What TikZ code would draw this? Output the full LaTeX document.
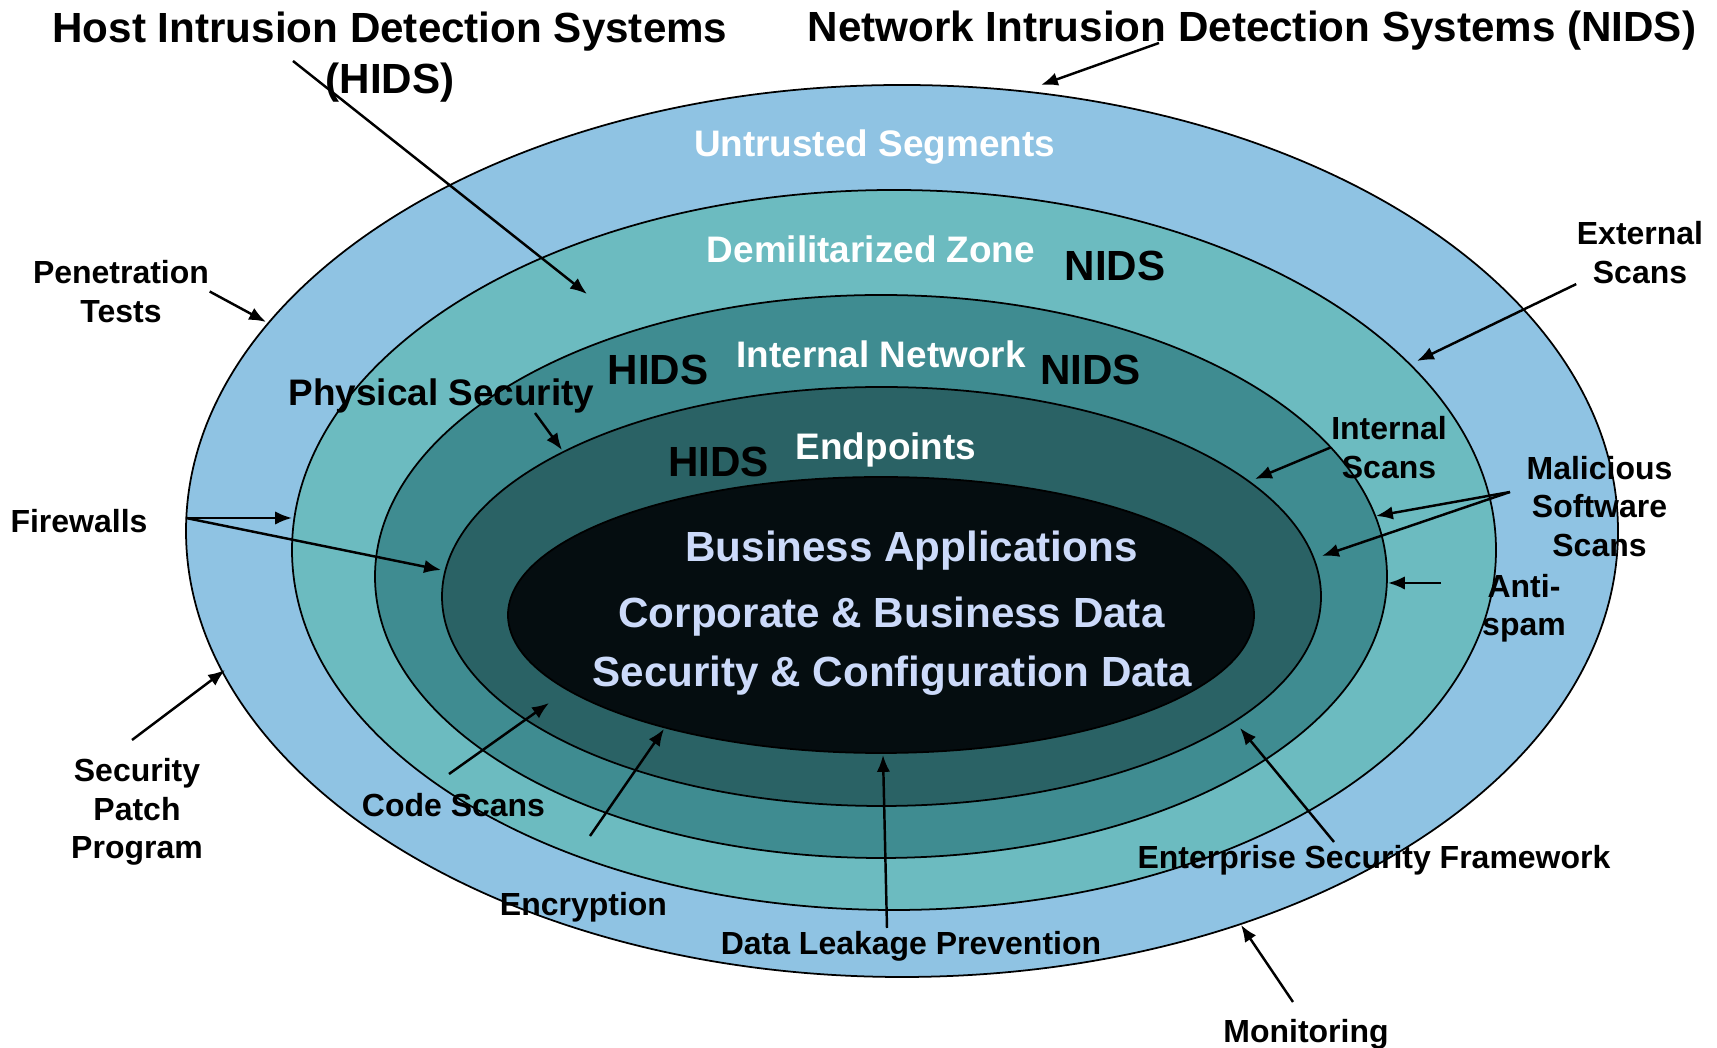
\documentclass[tikz,border=0pt]{standalone}
\usepackage{fontspec}
\setmainfont{Liberation Sans}
\usetikzlibrary{arrows.meta}

\definecolor{zoneUntrusted}{RGB}{143,195,227}
\definecolor{zoneDmz}{RGB}{108,187,192}
\definecolor{zoneInternal}{RGB}{63,140,145}
\definecolor{zoneEndpoint}{RGB}{42,98,101}
\definecolor{zoneCore}{RGB}{5,13,16}
\definecolor{coretext}{RGB}{204,218,250}

\begin{document}
\begin{tikzpicture}

% --- Reusable styles ---
\tikzset{
    ring/.style={draw=black, line width=0.5pt},
    pointer/.style={-{Latex[length=4.8pt, width=3.8pt]}, line width=0.7pt},
    heading/.style={font=\bfseries\fontsize{12}{14.5}\selectfont, align=center, inner sep=0pt},
    zonelabel/.style={font=\bfseries\fontsize{10.5}{12.5}\selectfont, text=white, inner sep=0pt},
    idslabel/.style={font=\bfseries\fontsize{12}{14}\selectfont, inner sep=0pt},
    corelabel/.style={font=\bfseries\fontsize{12}{14}\selectfont, text=coretext, inner sep=0pt},
    sidelabel/.style={font=\bfseries\fontsize{9.1}{10.9}\selectfont, align=center, inner sep=0pt}
}

\useasboundingbox (0,0) rectangle (17.17,10.48);

% 1. Nested zones, outermost first
\draw[ring, fill=zoneUntrusted] (9.02,5.17) ellipse [x radius=7.16, y radius=4.46];
\draw[ring, fill=zoneDmz] (8.94,4.98) ellipse [x radius=6.02, y radius=3.60];
\draw[ring, fill=zoneInternal] (8.81,4.715) ellipse [x radius=5.06, y radius=2.815];
\draw[ring, fill=zoneEndpoint] (8.815,4.515) ellipse [x radius=4.395, y radius=2.095];
\draw[ring, fill=zoneCore] (8.81,4.33) ellipse [x radius=3.73, y radius=1.38];

% 2. Headings at the top
\node[heading] (hidsTitle) at (3.90,9.91) {Host Intrusion Detection Systems\\(HIDS)};
\node[heading] (nidsTitle) at (12.52,10.17) {Network Intrusion Detection Systems (NIDS)};

% 3. Zone names and the IDS placed in them
\node[zonelabel] (untrustedLbl) at (8.745,9.01) {Untrusted Segments};
\node[zonelabel] (dmzLbl) at (8.71,7.99) {Demilitarized Zone};
\node[zonelabel] (internalLbl) at (8.81,6.935) {Internal Network};
\node[zonelabel] (endpointLbl) at (8.86,5.985) {Endpoints};
\node[zonelabel, text=black] (physical) at (4.415,6.52) {Physical Security};

\node[idslabel] (dmzNids) at (11.15,7.82) {NIDS};
\node[idslabel] (internalNids) at (10.905,6.78) {NIDS};
\node[idslabel] (internalHids) at (6.58,6.78) {HIDS};
\node[idslabel] (endpointHids) at (7.185,5.86) {HIDS};

% 4. What sits in the core
\node[corelabel] (apps) at (9.115,4.975) {Business Applications};
\node[corelabel] (corpData) at (8.915,4.315) {Corporate \& Business Data};
\node[corelabel] (secData) at (8.925,3.725) {Security \& Configuration Data};

% 5. Controls around the rings
\node[sidelabel] (penetration) at (1.21,7.565) {Penetration\\Tests};
\node[sidelabel] (external) at (16.40,7.955) {External\\Scans};
\node[sidelabel] (firewalls) at (0.79,5.27) {Firewalls};
\node[sidelabel] (internalScans) at (13.89,6.005) {Internal\\Scans};
\node[sidelabel] (malware) at (15.995,5.415) {Malicious\\Software\\Scans};
\node[sidelabel] (antispam) at (15.24,4.40) {Anti-\\spam};
\node[sidelabel] (patching) at (1.37,2.36) {Security\\Patch\\Program};
\node[sidelabel] (codeScans) at (4.535,2.43) {Code Scans};
\node[sidelabel] (encryption) at (5.835,1.405) {Encryption};
\node[sidelabel] (dlp) at (9.11,1.015) {Data Leakage Prevention};
\node[sidelabel] (framework) at (13.74,1.88) {Enterprise Security Framework};
\node[sidelabel] (monitoring) at (13.06,0.14) {Monitoring};

% 6. Arrow ends
\coordinate (hidsTail) at (2.93,9.87);   \coordinate (hidsTip) at (5.87,7.54);
\coordinate (nidsTail) at (11.59,10.05); \coordinate (nidsTip) at (10.41,9.63);
\coordinate (penTip) at (2.66,7.26);
\coordinate (extTip) at (14.17,6.87);
\coordinate (physTail) at (5.35,6.35);   \coordinate (physTip) at (5.62,5.98);
\coordinate (fireTail) at (1.86,5.30);
\coordinate (fireTipA) at (2.92,5.30);   \coordinate (fireTipB) at (4.41,4.78);
\coordinate (intTip) at (12.55,5.69);
\coordinate (malTail) at (15.10,5.56);
\coordinate (malTipA) at (13.76,5.32);   \coordinate (malTipB) at (13.22,4.92);
\coordinate (spamTail) at (14.41,4.65);  \coordinate (spamTip) at (13.88,4.65);
\coordinate (patchTail) at (1.32,3.08);  \coordinate (patchTip) at (2.25,3.78);
\coordinate (codeTail) at (4.49,2.74);   \coordinate (codeTip) at (5.49,3.45);
\coordinate (encTail) at (5.90,2.12);    \coordinate (encTip) at (6.64,3.19);
\coordinate (dlpTail) at (8.87,1.20);    \coordinate (dlpTip) at (8.83,2.93);
\coordinate (esfTail) at (13.34,2.06);   \coordinate (esfTip) at (12.40,3.20);
\coordinate (monTail) at (12.93,0.46);   \coordinate (monTip) at (12.41,1.23);

% 7. Arrows
\draw[pointer] (hidsTail) -- (hidsTip);
\draw[pointer] (nidsTail) -- (nidsTip);
\draw[pointer] (penetration.east) -- (penTip);
\draw[pointer] (external.south west) -- (extTip);
\draw[pointer] (physTail) -- (physTip);
\draw[pointer] (fireTail) -- (fireTipA);
\draw[pointer] (fireTail) -- (fireTipB);
\draw[pointer] (internalScans.west) -- (intTip);
\draw[pointer] (malTail) -- (malTipA);
\draw[pointer] (malTail) -- (malTipB);
\draw[pointer] (spamTail) -- (spamTip);
\draw[pointer] (patchTail) -- (patchTip);
\draw[pointer] (codeTail) -- (codeTip);
\draw[pointer] (encTail) -- (encTip);
\draw[pointer] (dlpTail) -- (dlpTip);
\draw[pointer] (esfTail) -- (esfTip);
\draw[pointer] (monTail) -- (monTip);

\end{tikzpicture}
\end{document}
